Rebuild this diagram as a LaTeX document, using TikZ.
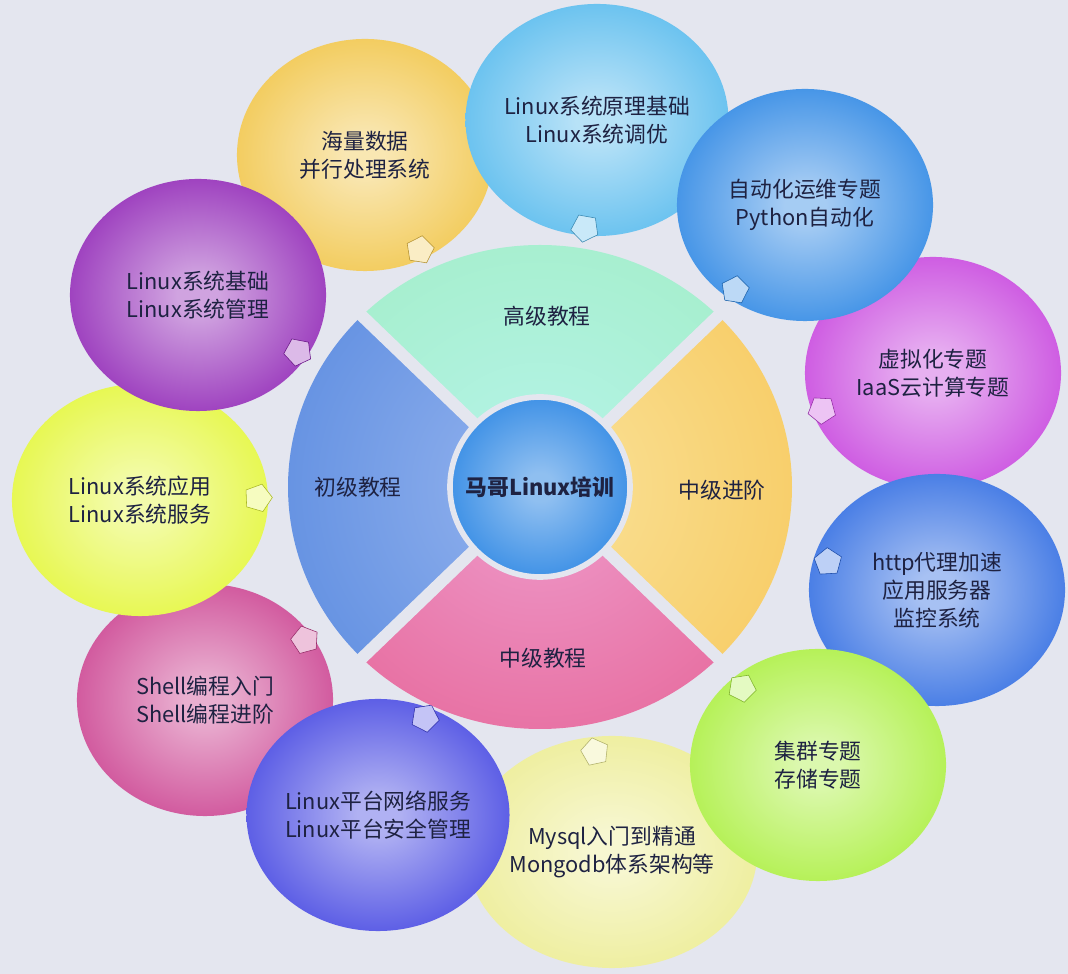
\documentclass[tikz,border=0pt]{standalone}
\usepackage{xcolor}
\usepackage{fontspec}
\usepackage{tikz}
\usetikzlibrary{shapes.geometric}
\newfontfamily\cjk{Noto Sans CJK SC}
\definecolor{bgcol}{HTML}{E4E6EF}
\definecolor{inkcol}{HTML}{1E2242}
\definecolor{haiyellow}{HTML}{F0C23E}
\definecolor{skyblue}{HTML}{4CB6EC}
\definecolor{autoblue}{HTML}{1F7FE2}
\definecolor{virtpurple}{HTML}{C43ADC}
\definecolor{httpblue}{HTML}{2363E0}
\definecolor{clustlime}{HTML}{A6EE34}
\definecolor{dbyellow}{HTML}{EBEB8C}
\definecolor{netviolet}{HTML}{3A3CE0}
\definecolor{shellpink}{HTML}{C8378A}
\definecolor{applime}{HTML}{E2F62E}
\definecolor{basepurple}{HTML}{8A1AB2}
\definecolor{mint-in}{HTML}{B6F4EA}
\definecolor{mint-out}{HTML}{98EAB4}
\definecolor{blue-in}{HTML}{95B4EE}
\definecolor{blue-out}{HTML}{3A74D8}
\definecolor{pink-in}{HTML}{EE9CCC}
\definecolor{pink-out}{HTML}{E2487C}
\definecolor{gold-in}{HTML}{FAE29A}
\definecolor{gold-out}{HTML}{F5BC3E}
\pgfdeclareradialshading[bubin,bubout]{bubble}{\pgfpoint{0bp}{0bp}}{color(0bp)=(bubin);color(4bp)=(bubin);color(34bp)=(bubout);color(50bp)=(bubout)}

\begin{document}
\begin{tikzpicture}[x=0.025cm, y=0.025cm,
  bubble/.style={ellipse, minimum width=6.4cm, minimum height=5.8cm, inner sep=0pt, align=center,
    font=\cjk\fontsize{15.5}{20}\selectfont, text=inkcol,
    /utils/exec={\colorlet{bubin}{#1!40!white}\colorlet{bubout}{#1}}, shade, shading=bubble},
  hub/.style={circle, minimum size=4.5cm, inner sep=0pt, draw=bgcol, line width=4pt,
    font=\cjk\bfseries\fontsize{15.5}{20}\selectfont, text=inkcol,
    /utils/exec={\colorlet{bubin}{#1!50!white}\colorlet{bubout}{#1}}, shade, shading=bubble},
  pointer/.style={regular polygon, regular polygon sides=5, minimum size=0.72cm, inner sep=0pt,
    fill=#1!30!white, draw=#1!75!black, line width=0.4pt},
  seclabel/.style={font=\cjk\fontsize{15.5}{20}\selectfont, text=inkcol},
  gap/.style={draw=bgcol, line width=0.3cm}
]
\fill[bgcol] (0,0) rectangle (1068,974);
\useasboundingbox (0,0) rectangle (1068,974);

\node[bubble=haiyellow] (b1) at (365,819) {海量数据\\并行处理系统};
\node[bubble=skyblue] (b2) at (597,854) {Linux系统原理基础\\Linux系统调优};
\node[bubble=virtpurple] (b4) at (933,601) {虚拟化专题\\IaaS云计算专题};
\node[bubble=autoblue] (b3) at (805,769) {自动化运维专题\\Python自动化};
\node[bubble=httpblue] (b5) at (937,384) {http代理加速\\应用服务器\\监控系统};
\node[bubble=dbyellow] (b7) at (612,122) {Mysql入门到精通\\Mongodb体系架构等};
\node[bubble=clustlime] (b6) at (818,209) {集群专题\\存储专题};
\node[bubble=shellpink] (b9) at (205,274) {Shell编程入门\\Shell编程进阶};
\node[bubble=netviolet] (b8) at (378,159) {Linux平台网络服务\\Linux平台安全管理};
\node[bubble=applime] (b10) at (140,474) {Linux系统应用\\Linux系统服务};
\node[bubble=basepurple] (b11) at (198,679) {Linux系统基础\\Linux系统管理};

\node[pointer=haiyellow, rotate=-153] (p1) at (420,724) {};
\node[pointer=skyblue, rotate=170] (p2) at (585,746) {};
\node[pointer=autoblue, rotate=135] (p3) at (735,684) {};
\node[pointer=virtpurple, rotate=105] (p4) at (822,564) {};
\node[pointer=httpblue, rotate=75] (p5) at (828,412) {};
\node[pointer=clustlime, rotate=45] (p6) at (742,286) {};
\node[pointer=dbyellow, rotate=12] (p7) at (595,222) {};
\node[pointer=netviolet, rotate=-27] (p8) at (425,256) {};
\node[pointer=shellpink, rotate=-57] (p9) at (305,334) {};
\node[pointer=applime, rotate=-88] (p10) at (258,476) {};
\node[pointer=basepurple, rotate=-119] (p11) at (298,622) {};

\coordinate (ring) at (540,487);
\foreach \a/\s in {45/mint,135/blue,225/pink,315/gold}{
  \begin{scope}
    \clip (ring) -- +(\a:252 and 242) arc[start angle=\a, end angle=\a+90, x radius=252, y radius=242] -- cycle;
    \shade[inner color=\s-in, outer color=\s-out] (ring) circle[radius=500];
  \end{scope}
}
\draw[gap] ([shift={(45:258 and 248)}]ring) -- ([shift={(225:258 and 248)}]ring);
\draw[gap] ([shift={(135:258 and 248)}]ring) -- ([shift={(315:258 and 248)}]ring);

\node[hub=autoblue] (center) at (ring) {马哥Linux培训};

\node[seclabel] (s1) at (547,658) {高级教程};
\node[seclabel] (s2) at (358,487) {初级教程};
\node[seclabel] (s3) at (722,484) {中级进阶};
\node[seclabel] (s4) at (543,316) {中级教程};
\end{tikzpicture}
\end{document}
